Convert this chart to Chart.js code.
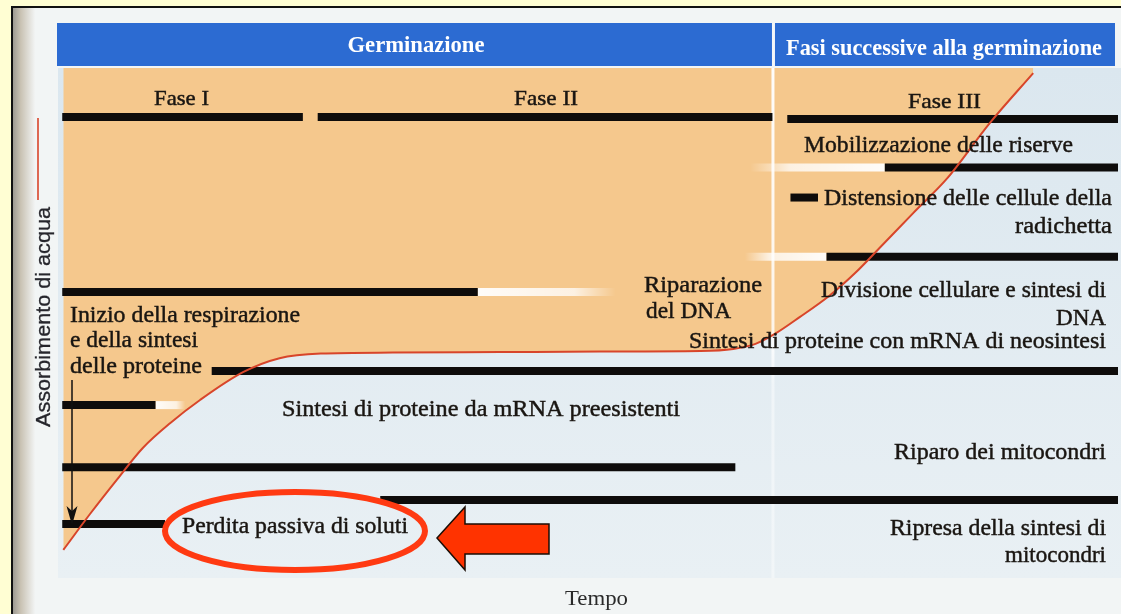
<!DOCTYPE html>
<html lang="it">
<head>
<meta charset="utf-8">
<title>Germinazione</title>
<script src="https://cdn.jsdelivr.net/npm/chart.js@4.4.1/dist/chart.umd.min.js"></script>
<style>
  html, body { margin: 0; padding: 0; background: #fffed3; }
  #wrap { width: 1121px; height: 614px; }
</style>
</head>
<body>
<div id="wrap"><canvas id="chart" width="1121" height="614"></canvas></div>
<script>
/* ---- data (time 0-100, water uptake 0-100) ---- */
const curveTime   = [0.5, 3.0, 5.6, 8.0, 10.6, 13.4, 17.5, 20.9, 24.8, 31.6, 41.7, 51.1, 60.6, 63.7, 65.8, 67.5, 70.0, 72.8, 75.2, 77.5, 80.7, 83.9, 87.9, 92.0];
const curveUptake = [5.5, 12.5, 19.4, 25.5, 30.4, 34.9, 40.4, 43.1, 44.0, 44.2, 44.3, 44.4, 44.5, 44.9, 45.9, 47.7, 51.2, 55.4, 59.8, 64.7, 71.6, 78.4, 89.2, 99.0];

const phaseBoundary = 67.45; // fine della germinazione

const processNames = [
  'Fase I', 'Fase II', 'Fase III',
  'Mobilizzazione delle riserve',
  'Distensione delle cellule della radichetta',
  'Divisione cellulare e sintesi di DNA',
  'Inizio della respirazione e della sintesi delle proteine',
  'Sintesi di proteine con mRNA di neosintesi',
  'Sintesi di proteine da mRNA preesistenti',
  'Riparo dei mitocondri',
  'Ripresa della sintesi di mitocondri',
  'Perdita passiva di soluti'
];
const processStart = [0.4, 24.5, 68.8, 78.0, 69.1, 72.5, 0.4, 14.5, 0.4, 0.4, 30.4, 0.4];
const processEnd   = [23.1, 67.4, 100, 100, 71.7, 100, 39.6, 100, 9.2, 63.9, 100, 10.1];
const processLevel = [90.4, 90.4, 90.0, 80.5, 74.6, 63.0, 56.1, 40.6, 33.9, 21.7, 15.3, 10.6];

// uncertain (faded) extensions of some processes
const fadeOf   = [3, 5, 6, 8];
const fadeFrom = [78.0, 72.5, 39.6, 9.2];
const fadeTo   = [65.3, 64.8, 52.6, 12.0];

const headerTitles = ['Germinazione', 'Fasi successive alla germinazione'];
const yTitle = 'Assorbimento di acqua';
const xTitle = 'Tempo';

/* ---- styles ---- */
const PEACH = '#f5c88d';
const HEADER_BLUE = '#2c6bd2';
const CURVE_RED = '#d8452a';
const INK = '#1a1612';
const SERIF = '"Liberation Serif", "DejaVu Serif", serif';
const SANS = '"Liberation Sans", Arial, sans-serif';

// text boxes: [text, left, right, baseline, size]
const textBoxes = [
  ['Fase I', 154, 209, 105, 22],
  ['Fase II', 514, 578, 105, 22],
  ['Fase III', 908, 981, 108, 22],
  ['Mobilizzazione delle riserve', 804, 1073, 152, 23],
  ['Distensione delle cellule della', 824, 1112, 205, 23],
  ['radichetta', 1015, 1112, 233, 23],
  ['Riparazione', 644, 762, 292, 23],
  ['del DNA', 646, 731, 318, 23],
  ['Divisione cellulare e sintesi di', 821, 1106, 297, 23],
  ['DNA', 1056, 1106, 325, 23],
  ['Sintesi di proteine con mRNA di neosintesi', 689, 1106, 348, 23],
  ['Inizio della respirazione', 70, 300, 322, 23],
  ['e della sintesi', 70, 198, 347, 23],
  ['delle proteine', 70, 202, 373, 23],
  ['Sintesi di proteine da mRNA preesistenti', 282, 680, 416, 23],
  ['Riparo dei mitocondri', 894, 1106, 459, 23],
  ['Ripresa della sintesi di', 890, 1106, 535, 23],
  ['mitocondri', 1005, 1106, 562, 23],
  ['Perdita passiva di soluti', 182, 408, 533, 23]
];

function fitText(ctx, str, x1, x2, baseline, font, heft) {
  ctx.font = font;
  const w = ctx.measureText(str).width;
  ctx.save();
  ctx.translate(x1, baseline);
  ctx.scale((x2 - x1) / w, 1);
  ctx.textAlign = 'left';
  ctx.textBaseline = 'alphabetic';
  ctx.fillText(str, 0, 0);
  if (heft) {
    ctx.strokeStyle = ctx.fillStyle;
    ctx.lineWidth = heft;
    ctx.strokeText(str, 0, 0);
  }
  ctx.restore();
}

function fadeGradient(context, i) {
  const chart = context.chart;
  if (!chart.chartArea) return 'rgba(255,255,255,0.9)';
  const x = chart.scales.x;
  const g = chart.ctx.createLinearGradient(x.getPixelForValue(fadeFrom[i]), 0, x.getPixelForValue(fadeTo[i]), 0);
  g.addColorStop(0, 'rgba(255,255,255,0.95)');
  g.addColorStop(0.7, 'rgba(255,255,255,0.75)');
  g.addColorStop(1, 'rgba(255,255,255,0.0)');
  return g;
}

function dividerGradient(context) {
  const chart = context.chart;
  if (!chart.chartArea) return 'rgba(255,255,255,0.8)';
  const a = chart.chartArea;
  const g = chart.ctx.createLinearGradient(0, a.top, 0, a.bottom);
  g.addColorStop(0, 'rgba(255,255,255,0.95)');
  g.addColorStop(0.55, 'rgba(255,255,255,0.8)');
  g.addColorStop(0.62, 'rgba(255,255,255,0.45)');
  g.addColorStop(1, 'rgba(255,255,255,0.4)');
  return g;
}

const scene = {
  id: 'scene',
  beforeDraw(chart) {
    const { ctx, width: W, height: H, chartArea: a } = chart;
    ctx.save();
    ctx.fillStyle = '#fffed3';
    ctx.fillRect(0, 0, W, H);
    // scanned page
    ctx.fillStyle = '#f2f5f5';
    ctx.fillRect(13, 8, W - 13, H - 8);
    const spine = ctx.createLinearGradient(13, 0, 35, 0);
    spine.addColorStop(0, '#9d9a92');
    spine.addColorStop(0.35, '#c9c2b3');
    spine.addColorStop(1, '#f2f4f4');
    ctx.fillStyle = spine;
    ctx.fillRect(13, 8, 22, H - 8);
    // plot background (light blue scan)
    const bg = ctx.createLinearGradient(0, a.top, 0, a.bottom);
    bg.addColorStop(0, '#dbe7ef');
    bg.addColorStop(1, '#e9f0f4');
    ctx.fillStyle = bg;
    ctx.fillRect(a.left, a.top, W - a.left, a.bottom - a.top);
    // header band
    const xs = chart.scales.x;
    const xb = xs.getPixelForValue(phaseBoundary);
    ctx.fillStyle = HEADER_BLUE;
    ctx.fillRect(a.left - 1, 23, W - 6 - (a.left - 1), 43);
    ctx.fillStyle = '#f4f6f8';
    ctx.fillRect(xb - 1, 23, 3, 43);
    ctx.fillStyle = '#ffffff';
    const c1 = (a.left + xb) / 2, c2 = (xb + W - 6) / 2;
    fitText(ctx, headerTitles[0], c1 - 68, c1 + 69, 52, 'bold 24px ' + SERIF);
    fitText(ctx, headerTitles[1], c2 - 158, c2 + 158, 55, 'bold 23px ' + SERIF);
    // frame
    ctx.fillStyle = '#111';
    ctx.fillRect(11, 6, 2, H - 6);
    ctx.fillRect(11, 6, W - 11, 2);
    ctx.restore();
  },
  afterDatasetsDraw(chart) {
    const { ctx } = chart;
    ctx.save();
    ctx.fillStyle = INK;
    textBoxes.forEach(([t, x1, x2, y, s]) => fitText(ctx, t, x1, x2, y, s + 'px ' + SERIF, 0.45));
    // x title
    ctx.fillStyle = '#2a2a2a';
    fitText(ctx, xTitle, 565, 628, 605, '21px ' + SERIF);
    // y title (rotated) and its red legend stroke
    ctx.save();
    ctx.translate(50, 427);
    ctx.rotate(-Math.PI / 2);
    ctx.fillStyle = '#26262c';
    fitText(ctx, yTitle, 0, 220, 0, '20px ' + SANS, 0.3);
    ctx.restore();
    ctx.strokeStyle = CURVE_RED;
    ctx.lineWidth = 1.6;
    ctx.beginPath();
    ctx.moveTo(38, 200);
    ctx.lineTo(38, 118);
    ctx.stroke();
    // black arrow
    ctx.strokeStyle = '#111';
    ctx.fillStyle = '#111';
    ctx.lineWidth = 1.5;
    ctx.beginPath();
    ctx.moveTo(72, 380);
    ctx.lineTo(72, 512);
    ctx.stroke();
    ctx.beginPath();
    ctx.moveTo(66.5, 506);
    ctx.lineTo(72, 525);
    ctx.lineTo(77.5, 506);
    ctx.lineTo(72, 511);
    ctx.closePath();
    ctx.fill();
    // red ellipse
    ctx.strokeStyle = '#ff3a12';
    ctx.lineWidth = 6;
    ctx.beginPath();
    ctx.ellipse(295, 531, 130, 39, 0, 0, Math.PI * 2);
    ctx.stroke();
    // red block arrow
    ctx.fillStyle = '#ff3300';
    ctx.strokeStyle = '#1a0d05';
    ctx.lineWidth = 1.5;
    ctx.beginPath();
    ctx.moveTo(437, 538);
    ctx.lineTo(465, 507);
    ctx.lineTo(465, 524);
    ctx.lineTo(549, 524);
    ctx.lineTo(549, 554);
    ctx.lineTo(465, 554);
    ctx.lineTo(465, 570);
    ctx.closePath();
    ctx.fill();
    ctx.stroke();
    ctx.restore();
  }
};

const datasets = [];
datasets.push({
  label: yTitle,
  data: curveTime.map((t, i) => ({ x: t, y: curveUptake[i] })),
  showLine: true,
  borderColor: CURVE_RED,
  borderWidth: 2,
  backgroundColor: PEACH,
  fill: 'end',
  cubicInterpolationMode: 'monotone',
  order: 0
});
processNames.forEach((name, i) => {
  datasets.push({
    label: name,
    data: [{ x: processStart[i], y: processLevel[i] }, { x: processEnd[i], y: processLevel[i] }],
    showLine: true,
    borderColor: '#0e0c0b',
    borderWidth: 8,
    borderCapStyle: 'butt',
    fill: false,
    order: 1
  });
});
fadeOf.forEach((p, i) => {
  datasets.push({
    label: processNames[p] + ' (incerto)',
    data: [{ x: fadeFrom[i], y: processLevel[p] }, { x: fadeTo[i], y: processLevel[p] }],
    showLine: true,
    borderColor: (c) => fadeGradient(c, i),
    borderWidth: 8,
    borderCapStyle: 'butt',
    fill: false,
    order: 2
  });
});
datasets.push({
  label: 'confine germinazione',
  data: [{ x: phaseBoundary, y: 0 }, { x: phaseBoundary, y: 100 }],
  showLine: true,
  borderColor: dividerGradient,
  borderWidth: 3,
  fill: false,
  order: 3
});

new Chart(document.getElementById('chart'), {
  type: 'scatter',
  data: { datasets },
  options: {
    responsive: false,
    animation: false,
    events: [],
    layout: { padding: { left: 58, right: 3, top: 68, bottom: 36 } },
    elements: { point: { radius: 0 } },
    scales: {
      x: { type: 'linear', min: 0, max: 100, display: false },
      y: { type: 'linear', min: 0, max: 100, display: false }
    },
    plugins: {
      legend: { display: false },
      tooltip: { enabled: false },
      filler: { drawTime: 'beforeDatasetsDraw' }
    }
  },
  plugins: [scene]
});
</script>
</body>
</html>
